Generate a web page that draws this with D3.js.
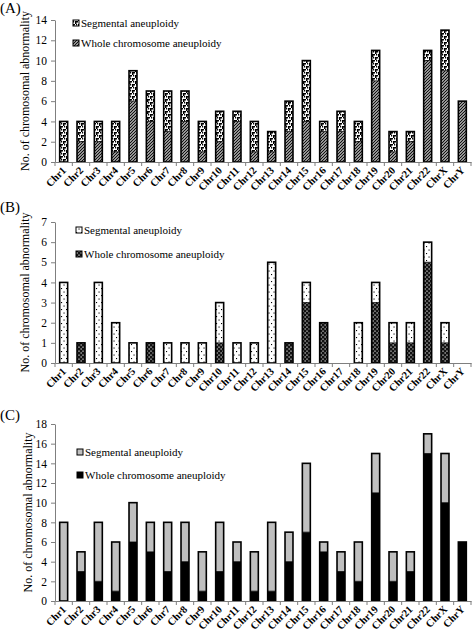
<!DOCTYPE html>
<html><head><meta charset="utf-8">
<script src="https://cdn.jsdelivr.net/npm/d3@7/dist/d3.min.js"></script>
<style>
body{margin:0;background:#fff;}
svg text{font-family:"Liberation Serif","Times New Roman",Times,serif;fill:#000;}
</style></head><body>
<svg id="chart" width="473" height="631"></svg>
<script>
const categories = ["Chr1","Chr2","Chr3","Chr4","Chr5","Chr6","Chr7","Chr8","Chr9","Chr10","Chr11","Chr12","Chr13","Chr14","Chr15","Chr16","Chr17","Chr18","Chr19","Chr20","Chr21","Chr22","ChrX","ChrY"];
const seriesNames = ["Segmental aneuploidy","Whole chromosome aneuploidy"];
// Panel A
const wholeA = [0,2,2,1,6,4,3,4,1,2,4,1,1,3,4,3,3,2,8,1,2,10,9,6];
const segA   = [4,2,2,3,3,3,4,3,3,3,1,3,2,3,6,1,2,2,3,2,1,1,4,0];
const ticksA = [0,2,4,6,8,10,12,14];
// Panel B
const wholeB = [0,1,0,0,0,1,0,0,0,1,0,0,0,1,3,2,0,0,3,1,1,5,1,0];
const segB   = [4,0,4,2,1,0,1,1,1,2,1,1,5,0,1,0,0,2,1,1,1,1,1,0];
const ticksB = [0,1,2,3,4,5,6,7];
// Panel C
const wholeC = [0,3,2,1,6,5,3,4,1,3,4,1,1,4,7,5,3,2,11,2,3,15,10,6];
const segC   = [8,2,6,5,4,3,5,4,4,5,2,4,7,3,7,1,2,4,4,3,2,2,5,0];
const ticksC = [0,2,4,6,8,10,12,14,16,18];
const yTitle = "No. of chromosomal abnormality";

const FONT = '"Liberation Serif","Times New Roman",Times,serif';
const svg = d3.select("#chart");
const defs = svg.append("defs");

function pat(id,w,h,bg,draw){
  const p = defs.append("pattern").attr("id",id).attr("patternUnits","userSpaceOnUse").attr("width",w).attr("height",h);
  p.append("rect").attr("width",w).attr("height",h).attr("fill",bg);
  draw(p);
}
pat("segA",6,6,"#fff",p=>{
  p.append("path").attr("d","M0,0h3v1.5h-1.5v1.5h-1.5z M3,3h3v1.5h-1.5v1.5h-1.5z").attr("fill","#000");
  p.append("rect").attr("x",4).attr("y",0).attr("width",1.2).attr("height",1.5).attr("fill","#000");
  p.append("rect").attr("x",1).attr("y",3).attr("width",1.2).attr("height",1.5).attr("fill","#000");
});
pat("wholeA",3,3,"#fff",p=>{
  p.append("path").attr("d","M-1,1L1,-1M0,3L3,0M2,4L4,2").attr("stroke","#111").attr("stroke-width",1.3);
});
pat("segB",5,7,"#fff",p=>{
  p.append("rect").attr("x",1).attr("y",1).attr("width",1.1).attr("height",1.1).attr("fill","#000");
  p.append("rect").attr("x",3.5).attr("y",4.5).attr("width",1.1).attr("height",1.1).attr("fill","#000");
});
pat("wholeB",4,4,"#111",p=>{
  p.append("rect").attr("x",0.5).attr("y",0.5).attr("width",1.3).attr("height",1).attr("fill","#fff");
  p.append("rect").attr("x",2.5).attr("y",2.5).attr("width",1).attr("height",1.3).attr("fill","#fff");
});

function panel(cfg){
  const g = svg.append("g");
  const x = d3.scaleBand().domain(categories).range([55,471]).padding(0);
  const y = d3.scaleLinear().domain([0, d3.max(cfg.ticks)]).range([cfg.y0, cfg.yTop]);
  const bw = x.bandwidth()*0.46;
  const axisColor = "#7f7f7f";

  const stack = categories.map((c,i)=>({c, w:cfg.whole[i], s:cfg.seg[i]}));
  const bars = g.append("g");
  stack.forEach(d=>{
    const bx = x(d.c) + (x.bandwidth()-bw)/2;
    const tot = d.w + d.s;
    if(tot===0) return;
    if(d.w>0) bars.append("rect").attr("x",bx).attr("y",y(d.w)).attr("width",bw).attr("height",y(0)-y(d.w)).attr("fill",cfg.wholeFill);
    if(d.s>0) bars.append("rect").attr("x",bx).attr("y",y(tot)).attr("width",bw).attr("height",y(d.w)-y(tot)).attr("fill",cfg.segFill);
    bars.append("rect").attr("x",bx).attr("y",y(tot)).attr("width",bw).attr("height",y(0)-y(tot))
      .attr("fill","none").attr("stroke","#000").attr("stroke-width",1.6);
    if(d.w>0 && d.s>0) bars.append("line").attr("x1",bx).attr("x2",bx+bw).attr("y1",y(d.w)).attr("y2",y(d.w)).attr("stroke","#000").attr("stroke-width",0.8);
  });

  const ya = g.append("g").attr("transform","translate(55,0)")
    .call(d3.axisLeft(y).tickValues(cfg.ticks).tickFormat(d3.format("d")).tickSize(4).tickSizeOuter(0).tickPadding(4));
  ya.attr("font-family",FONT);
  ya.select(".domain").attr("stroke",axisColor);
  ya.selectAll(".tick line").attr("stroke",axisColor);
  ya.selectAll("text").style("font-family",FONT).style("font-size","11.5px").attr("fill","#000");

  const xa = g.append("g").attr("transform",`translate(0,${cfg.y0})`)
    .call(d3.axisBottom(x).tickSize(0).tickSizeOuter(0));
  xa.attr("font-family",FONT);
  xa.select(".domain").attr("stroke",axisColor);
  xa.selectAll(".tick text")
    .style("font-family",FONT).style("font-size","10.5px").style("font-weight","bold")
    .attr("text-anchor","end").attr("dy","0").attr("y",0)
    .attr("transform","translate(3,9) rotate(-45)");
  const bounds = categories.map(c=>x(c)).concat([x.range()[1]]);
  g.append("g").selectAll("line").data(bounds).join("line")
    .attr("x1",d=>d).attr("x2",d=>d).attr("y1",cfg.y0).attr("y2",cfg.y0+4).attr("stroke",axisColor);

  g.append("text").attr("transform",`translate(${cfg.titleX},${(cfg.y0+cfg.yTop)/2}) rotate(-90)`)
    .attr("text-anchor","middle").attr("dy","0.35em").style("font-size","12px").text(yTitle);

  g.append("text").attr("x",0).attr("y",cfg.letterY).style("font-size","15px").text(cfg.letter);

  const fills=[cfg.segFill,cfg.wholeFill];
  seriesNames.forEach((n,i)=>{
    const ly = cfg.legY[i];
    g.append("rect").attr("x",cfg.legX).attr("y",ly-3).attr("width",6).attr("height",6).attr("fill",fills[i]).attr("stroke","#000").attr("stroke-width",1);
    g.append("text").attr("x",cfg.legX+8).attr("y",ly).attr("dy","0.35em").style("font-size","11px").text(n);
  });
}

panel({whole:wholeA, seg:segA, ticks:ticksA, y0:162, yTop:20, segFill:"url(#segA)", wholeFill:"url(#wholeA)",
  titleX:25, letter:"(A)", letterY:13, legX:73, legY:[23,43]});
panel({whole:wholeB, seg:segB, ticks:ticksB, y0:363, yTop:222, segFill:"url(#segB)", wholeFill:"url(#wholeB)",
  titleX:25, letter:"(B)", letterY:212, legX:76, legY:[230,254]});
panel({whole:wholeC, seg:segC, ticks:ticksC, y0:601, yTop:424, segFill:"#bfbfbf", wholeFill:"#000",
  titleX:28, letter:"(C)", letterY:420, legX:77, legY:[452,475]});
</script></body></html>
